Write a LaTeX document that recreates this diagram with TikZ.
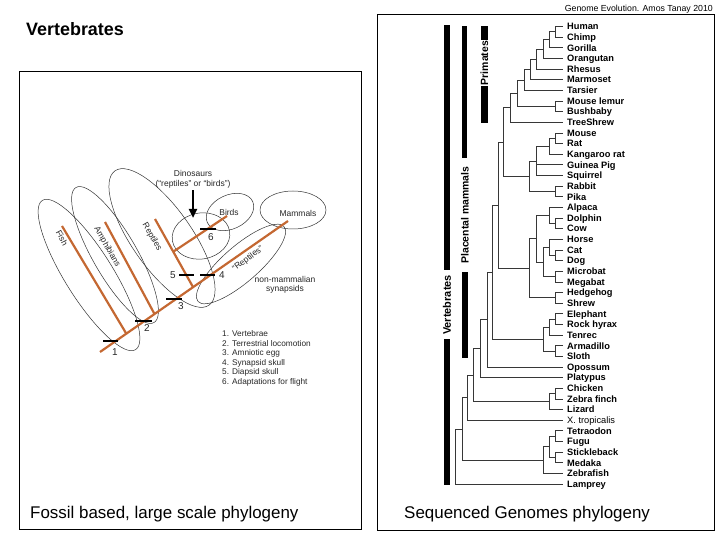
\documentclass[tikz,border=0pt]{standalone}
\usepackage{fontspec}
\setmainfont{Liberation Sans}
\usetikzlibrary{arrows.meta,calc}
\definecolor{org}{RGB}{196,104,50}
\definecolor{treec}{RGB}{55,55,55}
\newcommand{\clade}[5]{\draw[treeline] (#2,#3) -| (#1,#5) -- (#4,#5);}
\begin{document}
\begin{tikzpicture}[x=1bp,y=-1bp,
  every node/.style={inner sep=0pt},
  frame/.style={draw=black, line width=0.8bp},
  treeline/.style={draw=treec, line width=0.7bp},
  leaf/.style={anchor=base west, font=\fontsize{9.3}{10}\selectfont\bfseries},
  barlbl/.style={rotate=90, font=\fontsize{10.5}{12}\selectfont\bfseries},
  ell/.style={draw=black!80, line width=0.5bp},
  orng/.style={draw=org, line width=2.2bp},
  mbar/.style={draw=black, line width=2bp},
  lbl/.style={font=\fontsize{8.5}{10}\selectfont, text=black!85},
  num/.style={font=\fontsize{10}{11}\selectfont, text=black!85},
  legend/.style={anchor=base west, font=\fontsize{8.3}{10}\selectfont, text=black!85}]
\useasboundingbox (0,0) rectangle (720,540);
% frames and captions
\draw[frame] (19,71) rectangle (361,529);
\draw[frame] (377,14) rectangle (714,530);
\node[anchor=base west, font=\fontsize{18}{20}\selectfont\bfseries] (title) at (26,36) {Vertebrates};
\node[anchor=base west, font=\fontsize{17}{20}\selectfont] (cap1) at (30,518) {Fossil based, large scale phylogeny};
\node[anchor=base west, font=\fontsize{17}{20}\selectfont] (cap2) at (404,518) {Sequenced Genomes phylogeny};
\node[anchor=base east, font=\fontsize{8.8}{10}\selectfont] (credit) at (713,11.5) {Genome Evolution. Amos Tanay 2010};

% ---------------- left: fossil phylogeny ----------------
% ellipses
\draw[ell, rotate around={-58:(89,275)}] (89,275) ellipse [x radius=88, y radius=24];
\draw[ell, rotate around={-60:(115,255)}] (115,255) ellipse [x radius=78, y radius=22];
\draw[ell, rotate around={-55:(162,238)}] (162,238) ellipse [x radius=82, y radius=30];
\draw[ell, rotate around={10:(201,236)}] (201,236) ellipse [x radius=29, y radius=23];
\draw[ell, rotate around={25:(230,212)}] (230,212) ellipse [x radius=25, y radius=17];
\draw[ell] (293,210) ellipse [x radius=33, y radius=19];
\draw[ell, rotate around={41:(241,264)}] (241,264) ellipse [x radius=57, y radius=18];
% orange branches
\coordinate (T0) at (100,352);
\coordinate (T1) at (288,221);
\coordinate (fb) at ($(T0)!0.14!(T1)$);
\coordinate (ab) at ($(T0)!0.29!(T1)$);
\coordinate (rb) at ($(T0)!0.495!(T1)$);
\coordinate (ft) at (62,226);
\coordinate (at) at (105,222);
\coordinate (rt) at (155,219);
\coordinate (bb) at ($(rb)!0.52!(rt)$);
\coordinate (bt) at (227,216);
\draw[orng] (T0) -- (T1);
\draw[orng] (fb) -- (ft);
\draw[orng] (ab) -- (at);
\draw[orng] (rb) -- (rt);
\draw[orng] (bb) -- (bt);
% character bars
\draw[mbar] (103,341) -- (118,341);
\draw[mbar] (135,321) -- (152,321);
\draw[mbar] (166,299) -- (182,299);
\draw[mbar] (179,275) -- (194,275);
\draw[mbar] (200,275) -- (215,275);
\draw[mbar] (200,229) -- (216,229);
\node[num] (n1) at (115,352) {1};
\node[num] (n2) at (147,328) {2};
\node[num] (n3) at (181,306) {3};
\node[num] (n5) at (173,275) {5};
\node[num] (n4) at (222,275) {4};
\node[num] (n6) at (211,237) {6};
% labels
\node[lbl, rotate=-62] (fish) at (62,238) {Fish};
\node[lbl, rotate=-60] (amph) at (107,247) {Amphibians};
\node[lbl, rotate=-60] (rept) at (152,237) {Reptiles};
\node[lbl] (birds) at (229,212) {Birds};
\node[lbl] (mamm) at (298,213) {Mammals};
\node[lbl, rotate=37] (syn) at (248,259) {“Reptiles”};
\node[lbl] (nm1) at (285,279) {non-mammalian};
\node[lbl] (nm2) at (285,289) {synapsids};
\node[lbl] (dino1) at (193,173) {Dinosaurs};
\node[lbl] (dino2) at (193,184) {(“reptiles” or “birds”)};
\coordinate (dtip) at (193,218);
\draw[line width=2.8bp, -{Triangle[length=9bp,width=8bp]}] (dino2.south) ++(0,2) -- (dtip);
% legend
\node[legend] (k1) at (222,336) {1. Vertebrae};
\node[legend] (k2) at (222,346) {2. Terrestrial locomotion};
\node[legend] (k3) at (222,355) {3. Amniotic egg};
\node[legend] (k4) at (222,365) {4. Synapsid skull};
\node[legend] (k5) at (222,374) {5. Diapsid skull};
\node[legend] (k6) at (222,384) {6. Adaptations for flight};

% ---------------- right: genome tree ----------------
% group bars
\fill (444,25) rectangle (450,270);
\fill (444,339) rectangle (450,485);
\node[barlbl, font=\fontsize{11}{12}\selectfont\bfseries] (gv) at (447,305) {Vertebrates};
\fill (462,26) rectangle (467,158);
\fill (462,272) rectangle (468,358);
\node[barlbl] (gp) at (465,215) {Placental mammals};
\fill (481,26) rectangle (488,40);
\fill (481,86) rectangle (488,123);
\node[barlbl] (gpr) at (484.5,63) {Primates};
% leaves
\foreach \n [count=\i] in {Human,Chimp,Gorilla,Orangutan,Rhesus,Marmoset,Tarsier,Mouse lemur,Bushbaby,TreeShrew,Mouse,Rat,Kangaroo rat,Guinea Pig,Squirrel,Rabbit,Pika,Alpaca,Dolphin,Cow,Horse,Cat,Dog,Microbat,Megabat,Hedgehog,Shrew,Elephant,Rock hyrax,Tenrec,Armadillo,Sloth,Opossum,Platypus,Chicken,Zebra finch,Lizard,{\mdseries X. tropicalis},Tetraodon,Fugu,Stickleback,Medaka,Zebrafish,Lamprey}
  {\node[leaf] (L\i) at (567,{29.8+10.64*(\i-1)}) {\n};}
\def\E{563}
% primates
\clade{555}{\E}{26.5}{\E}{37.1}
\clade{549}{555}{31.8}{\E}{47.8}
\clade{543}{549}{39.8}{\E}{58.4}
\clade{536}{543}{49.1}{\E}{69.1}
\clade{530}{536}{59.1}{\E}{79.7}
\clade{524}{530}{69.4}{\E}{90.3}
\clade{555}{\E}{101.0}{\E}{111.6}
\clade{517}{524}{79.9}{555}{106.3}
\clade{510}{517}{93.1}{\E}{122.3}
% glires
\clade{555}{\E}{132.9}{\E}{143.5}
\clade{549}{555}{138.2}{\E}{154.2}
\clade{536}{549}{146.2}{\E}{175.5}
\draw[treeline] (536,164.8) -- (\E,164.8);
\clade{555}{\E}{186.1}{\E}{196.7}
\clade{529}{536}{160.9}{555}{191.4}
\clade{503}{510}{107.7}{529}{176.2}
% laurasiatheria
\clade{555}{\E}{218.0}{\E}{228.7}
\clade{549}{\E}{207.4}{555}{223.4}
\clade{555}{\E}{249.9}{\E}{260.6}
\clade{549}{\E}{239.3}{555}{255.3}
\clade{555}{\E}{271.2}{\E}{281.9}
\clade{543}{549}{247.3}{555}{276.6}
\clade{536}{549}{215.4}{543}{262.0}
\clade{555}{\E}{292.5}{\E}{303.1}
\clade{529}{536}{238.7}{555}{297.8}
\clade{498}{503}{142.0}{529}{268.3}
% atlantogenata
\clade{555}{\E}{313.8}{\E}{324.4}
\clade{549}{555}{319.1}{\E}{335.1}
\clade{555}{\E}{345.7}{\E}{356.3}
\clade{543}{549}{327.1}{555}{351.0}
\clade{492}{498}{205.2}{543}{339.0}
% deeper
\clade{487}{492}{272.1}{\E}{367.0}
\clade{480}{487}{319.6}{\E}{377.6}
\clade{555}{\E}{388.3}{\E}{398.9}
\clade{549}{555}{393.6}{\E}{409.5}
\clade{473}{480}{348.6}{549}{401.6}
\clade{467}{473}{375.1}{\E}{420.2}
\clade{555}{\E}{430.8}{\E}{441.5}
\clade{555}{\E}{452.1}{\E}{462.7}
\clade{549}{555}{436.2}{555}{457.4}
\clade{543}{549}{446.8}{\E}{473.4}
\clade{462}{467}{397.7}{543}{460.1}
\clade{455}{462}{428.9}{\E}{484.0}
\end{tikzpicture}
\end{document}
